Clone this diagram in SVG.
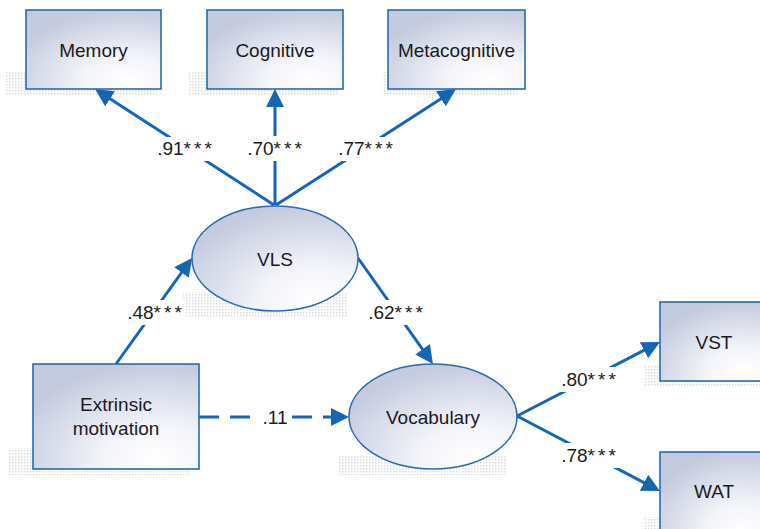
<svg xmlns="http://www.w3.org/2000/svg" width="760" height="529" viewBox="0 0 760 529">
<defs>
<radialGradient id="g" cx="0.75" cy="0.9" r="0.9" fx="0.75" fy="0.9">
<stop offset="0" stop-color="#ffffff"/>
<stop offset="0.35" stop-color="#f4f5fa"/>
<stop offset="1" stop-color="#c4cbdf"/>
</radialGradient>
<pattern id="dots" width="3" height="3" patternUnits="userSpaceOnUse">
<rect width="1.5" height="1.5" fill="#c4c4c4"/>
</pattern>
<marker id="ah" markerUnits="userSpaceOnUse" markerWidth="20" markerHeight="18" refX="8" refY="9" orient="auto" viewBox="0 0 20 18">
<path d="M0,0 L18,9 L0,18 z" fill="#1565b5"/>
</marker>
<style>
.node{fill:url(#g);stroke:#2a6ab0;stroke-width:1.6}
.sh{fill:url(#dots);opacity:0.6}
.t{font-family:"Liberation Sans",Arial,sans-serif;font-size:19px;fill:#1a1a1a;text-anchor:middle}
.lb{font-family:"Liberation Sans",Arial,sans-serif;font-size:19px;fill:#1a1a1a;text-anchor:middle}
.ast{letter-spacing:3px}
.c{fill:none;stroke:#1565b5;stroke-width:3;marker-end:url(#ah)}
.bg{fill:#ffffff}
</style>
</defs>

<g id="shadows">
<rect class="sh" x="6" y="72" width="151" height="23"/>
<rect class="sh" x="189" y="72" width="150" height="23"/>
<rect class="sh" x="382" y="72" width="136" height="23"/>
<rect class="sh" x="182" y="292" width="165" height="25"/>
<rect class="sh" x="338" y="455" width="168" height="20"/>
<rect class="sh" x="9" y="448" width="181" height="27"/>
<rect class="sh" x="643" y="365" width="120" height="22"/>
<rect class="sh" x="643" y="517" width="120" height="12"/>
</g>

<g id="connectors">
<path class="c" d="M274,205 L103.4,94.4"/>
<path class="c" d="M275,205 L275,99"/>
<path class="c" d="M276,205 L447.6,94.4"/>
<path class="c" d="M116,364 L186.2,266.1"/>
<path class="c" d="M358,258 L427.2,355.8"/>
<path class="c" d="M199,417 L339,417" stroke-dasharray="20 11"/>
<path class="c" d="M517,416 L651.1,346.6"/>
<path class="c" d="M517,416 L651.1,486.4"/>
</g>

<g id="labels">
<rect class="bg" x="154" y="137" width="62" height="24"/>
<text class="lb" x="186" y="155">.91<tspan class="ast">***</tspan></text>
<rect class="bg" x="244" y="136" width="62" height="25"/>
<text class="lb" x="276" y="155">.70<tspan class="ast">***</tspan></text>
<rect class="bg" x="335" y="137" width="62" height="24"/>
<text class="lb" x="367" y="155">.77<tspan class="ast">***</tspan></text>
<rect class="bg" x="123" y="300" width="62" height="25"/>
<text class="lb" x="156" y="319">.48<tspan class="ast">***</tspan></text>
<rect class="bg" x="364" y="300" width="62" height="25"/>
<text class="lb" x="397" y="319">.62<tspan class="ast">***</tspan></text>
<rect class="bg" x="258" y="405" width="34" height="24"/>
<text class="lb" x="275" y="424">.11</text>
<rect class="bg" x="556" y="367" width="65" height="25"/>
<text class="lb" x="590" y="386">.80<tspan class="ast">***</tspan></text>
<rect class="bg" x="556" y="443" width="65" height="25"/>
<text class="lb" x="590" y="462">.78<tspan class="ast">***</tspan></text>
</g>

<g id="memory">
<rect class="node" x="26" y="10" width="135" height="79"/>
<text class="t" x="93.5" y="57">Memory</text>
</g>
<g id="cognitive">
<rect class="node" x="207" y="10" width="136" height="79"/>
<text class="t" x="275" y="57">Cognitive</text>
</g>
<g id="metacognitive">
<rect class="node" x="388" y="10" width="137" height="79"/>
<text class="t" x="456.5" y="57">Metacognitive</text>
</g>
<g id="vls">
<ellipse class="node" cx="275" cy="258.5" rx="83" ry="52.5"/>
<text class="t" x="275" y="266">VLS</text>
</g>
<g id="extrinsic">
<rect class="node" x="33" y="364" width="166" height="105"/>
<text class="t" x="116" y="411">Extrinsic</text>
<text class="t" x="116" y="435">motivation</text>
</g>
<g id="vocabulary">
<ellipse class="node" cx="433" cy="416.5" rx="84" ry="52.5"/>
<text class="t" x="433" y="424">Vocabulary</text>
</g>
<g id="vst">
<rect class="node" x="660" y="302" width="110" height="79"/>
<text class="t" x="714" y="349">VST</text>
</g>
<g id="wat">
<rect class="node" x="660" y="452" width="110" height="90"/>
<text class="t" x="714" y="498">WAT</text>
</g>
</svg>
